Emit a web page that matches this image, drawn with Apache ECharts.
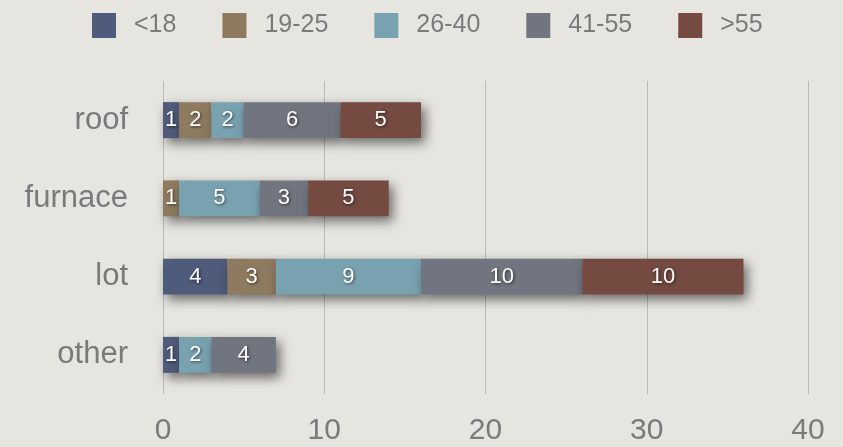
<!DOCTYPE html>
<html><head><meta charset="utf-8">
<script src="https://cdn.jsdelivr.net/npm/echarts@6/dist/echarts.min.js"></script>
<style>html,body{margin:0;padding:0;background:#e6e5e0;}#c{width:843px;height:447px;}</style>
</head><body><div id="c"></div>
<script>
const categories = ['other', 'lot', 'furnace', 'roof'];
const seriesNames = ['<18', '19-25', '26-40', '41-55', '>55'];
const under18 = [1, 4, 0, 1];
const age19to25 = [0, 3, 1, 2];
const age26to40 = [2, 9, 5, 2];
const age41to55 = [4, 10, 3, 6];
const over55 = [0, 10, 5, 5];
const xTicks = [0, 10, 20, 30, 40];
const colors = ['#4f5b7b', '#8e7a5f', '#79a2b0', '#71757f', '#744a41'];
const values = [under18, age19to25, age26to40, age41to55, over55];

const chart = echarts.init(document.getElementById('c'));
const font = '"Liberation Sans", "Helvetica Neue", Arial, sans-serif';
chart.setOption({
  backgroundColor: '#e6e5e0',
  animation: false,
  legend: {
    top: 13, left: 92, padding: 0,
    itemWidth: 24, itemHeight: 25, itemGap: 46,
    icon: 'rect',
    textStyle: { color: '#7a7a7a', fontSize: 25, fontFamily: font, padding: [0, 0, 0, 13] },
    data: seriesNames
  },
  grid: { left: 163, right: 35, top: 81, bottom: 53 },
  xAxis: {
    type: 'value', min: 0, max: 40, interval: 10,
    axisLine: { show: false }, axisTick: { show: false },
    splitLine: { lineStyle: { color: '#babab7', width: 1 } },
    axisLabel: { color: '#7a7a7a', fontSize: 30, fontFamily: font, margin: 22,
      formatter: v => xTicks.includes(v) ? String(v) : '' }
  },
  yAxis: {
    type: 'category', data: categories,
    axisLine: { show: false }, axisTick: { show: false },
    axisLabel: { color: '#7a7a7a', fontSize: 31, fontFamily: font, margin: 35 }
  },
  series: seriesNames.map((n, i) => ({
    name: n, type: 'bar', stack: 'total', barWidth: '46%',
    data: values[i],
    itemStyle: { color: colors[i], shadowColor: 'rgba(0,0,0,0.55)', shadowBlur: 12, shadowOffsetX: 4, shadowOffsetY: 5 },
    label: { show: true, position: 'inside', color: '#fff', fontSize: 22, fontFamily: font,
      textShadowColor: 'rgba(0,0,0,0.6)', textShadowBlur: 3, textShadowOffsetX: 1, textShadowOffsetY: 1,
      formatter: p => p.value ? String(p.value) : '' }
  }))
});
</script></body></html>
